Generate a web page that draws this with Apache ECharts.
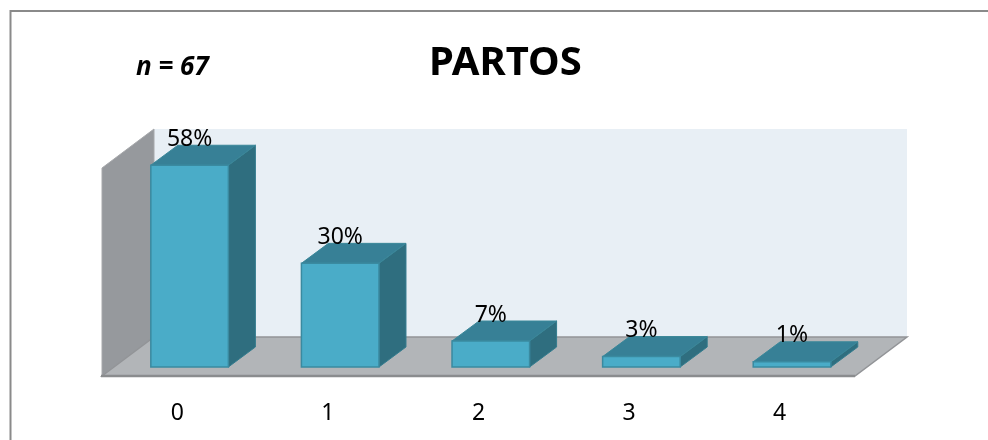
<!DOCTYPE html>
<html><head><meta charset="utf-8">
<style>html,body{margin:0;padding:0;background:#fff}#c{width:988px;height:440px}</style>
<script src="https://cdn.jsdelivr.net/npm/echarts@6/dist/echarts.min.js"></script>
</head><body><div id="c"></div>
<script>
const categories = ['0','1','2','3','4'];
const shares = [58.2, 29.9, 7.5, 3.0, 1.5];
const labels = ['58%','30%','7%','3%','1%'];
const titleText = 'PARTOS';
const noteText = 'n = 67';
const FONT = '"Noto Sans", sans-serif';
const WALL_DX = 52, WALL_DY = 39, BAR_DX = 27, BAR_DY = 20, INSET_DX = 12.3, INSET_DY = 9;

function poly(points, fill, stroke, lw, z2) {
  return {type:'polygon', z2:z2||0, shape:{points}, style:{fill, stroke:stroke||fill, lineWidth:lw==null?1:lw}};
}
function renderRoom(params, api) {
  const c = params.coordSys;
  const l=c.x, r=c.x+c.width, t=c.y, b=c.y+c.height;
  return {type:'group', children:[
    poly([[l+WALL_DX,t-WALL_DY],[r+WALL_DX,t-WALL_DY],[r+WALL_DX,b-WALL_DY],[l+WALL_DX,b-WALL_DY]],'#e8eff5','#e8eff5',0),
    poly([[l,t],[l+WALL_DX,t-WALL_DY],[l+WALL_DX,b-WALL_DY],[l,b]],'#96999d','#a6a8ab',1),
    poly([[l,b],[l+WALL_DX,b-WALL_DY],[r+WALL_DX,b-WALL_DY],[r,b]],'#b2b5b8','#929497',1.5),
    {type:'line', shape:{x1:l-1,y1:b,x2:r,y2:b}, style:{stroke:'#8a8c8e',lineWidth:2.4}}
  ]};
}
function renderBar(params, api) {
  const i = api.value(0), v = api.value(1);
  const top = api.coord([i, v]), base = api.coord([i, 0]);
  const w = api.size([1, 0])[0] * 0.515;
  const x0 = top[0] + INSET_DX - w/2, x1 = x0 + w;
  const y0 = top[1] - INSET_DY, y1 = base[1] - INSET_DY;
  const s = '#3a8aa0';
  return {type:'group', children:[
    poly([[x1,y0],[x1+BAR_DX,y0-BAR_DY],[x1+BAR_DX,y1-BAR_DY],[x1,y1]],'#2f6e7f','#337c8e',1),
    poly([[x0,y0],[x0+BAR_DX,y0-BAR_DY],[x1+BAR_DX,y0-BAR_DY],[x1,y0]],'#378096','#3a8799',1),
    poly([[x0,y0],[x1,y0],[x1,y1],[x0,y1]],'#4aacc8',s,1.5),
    {type:'text', z2:5, style:{x:(x0+x1)/2, y:y0-26, text:labels[params.dataIndex], fill:'#000', font:'23px '+FONT, align:'center', verticalAlign:'middle'}}
  ]};
}
const chart = echarts.init(document.getElementById('c'), null, {renderer:'canvas'});
chart.setOption({
  animation:false,
  backgroundColor:'#fff',
  graphic:[
    {type:'polyline', z:0, shape:{points:[[10.5,440],[10.5,11],[988,11]]}, style:{fill:null, stroke:'#8a8a8a', lineWidth:2}},
    {type:'text', left:429, top:44, z:10, style:{text:titleText, fill:'#000', font:'bold 40px '+FONT}},
    {type:'text', left:136, top:55, z:10, style:{text:noteText, fill:'#000', font:'italic bold 26px '+FONT}}
  ],
  grid:{left:102, right:133, top:168, bottom:64},
  xAxis:{type:'category', data:categories, axisLine:{show:false}, axisTick:{show:false},
    axisLabel:{color:'#000', fontSize:23, fontFamily:FONT, margin:26}},
  yAxis:{type:'value', min:0, max:60, show:false, splitLine:{show:false}},
  series:[
    {type:'custom', coordinateSystem:'cartesian2d', renderItem:renderRoom, data:[[0,0]], silent:true, clip:false, z:1},
    {type:'custom', coordinateSystem:'cartesian2d', renderItem:renderBar, encode:{x:0,y:1},
      data:shares.map((v,i)=>[i,v]), clip:false, z:2}
  ]
});
</script></body></html>
